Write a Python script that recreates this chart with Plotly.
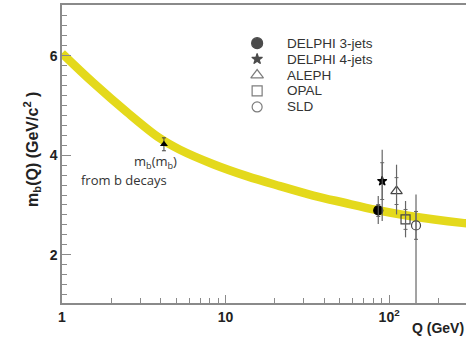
import plotly.graph_objects as go

# Running-mass band (centre line)
band_q = [1.0, 1.55, 2.49, 3.97, 5.26, 8.41, 13.5, 21.5, 34.4, 52.4, 83.9, 134, 279, 300]
band_m = [6.05, 5.46, 4.87, 4.34, 4.11, 3.82, 3.58, 3.38, 3.19, 3.05, 2.90, 2.78, 2.64, 2.63]

# mb(mb) from b decays
low_q = [4.2]
low_m = [4.22]
low_err = [0.13]

# LEP / SLD measurements
names = ["DELPHI 3-jets", "DELPHI 4-jets", "ALEPH", "OPAL", "SLD"]
q_vals = [85.8, 90.7, 111, 126, 146]
m_vals = [2.89, 3.48, 3.28, 2.71, 2.59]
err_up = [0.29, 0.63, 0.53, 0.37, 0.62]
err_dn = [0.27, 0.80, 0.47, 0.36, 1.70]
stat_err = [0.12, 0.37, 0.27, 0.20, 0.28]
symbols = ["circle", "star", "triangle-up-open", "square-open", "circle-open"]
colors = ["#000000", "#000000", "#444444", "#444444", "#444444"]
sizes = [9, 7, 10, 9, 9]
legend_sizes = [11, 8, 11, 10, 10]

x_major = [1, 10, 100]
x_major_text = ["<b>1</b>", "<b>10</b>", "<b>10<sup>2</sup></b>"]
x_minor = [2, 3, 4, 5, 6, 7, 8, 9, 20, 30, 40, 50, 60, 70, 80, 90, 200]
y_major = [2, 4, 6]
y_major_text = ["<b>2</b>", "<b>4</b>", "<b>6</b>"]

# manual legend layout (fractions of plot area)
leg_marker_x = 0.483
leg_text_x = 0.552
leg_top = 0.872
leg_step = 0.0535

fig = go.Figure()

fig.add_trace(go.Scatter(x=band_q, y=band_m, mode="lines",
                         line=dict(color="#e4d91c", width=8.5, shape="spline", smoothing=1.0),
                         showlegend=False, hoverinfo="skip"))

fig.add_trace(go.Scatter(x=low_q, y=low_m, mode="markers",
                         marker=dict(symbol="triangle-up", size=7, color="#000000"),
                         error_y=dict(type="data", array=low_err, color="#444444",
                                      thickness=1, width=2),
                         showlegend=False))

for i, n in enumerate(names):
    fig.add_trace(go.Scatter(x=[q_vals[i]], y=[m_vals[i]], mode="markers",
                             marker=dict(symbol=symbols[i], size=sizes[i], color=colors[i],
                                         line=dict(color=colors[i], width=1.2)),
                             error_y=dict(type="data", symmetric=False,
                                          array=[err_up[i]], arrayminus=[err_dn[i]],
                                          color="#666666", thickness=1.2, width=0),
                             name=n, showlegend=False))
    fig.add_trace(go.Scatter(x=[q_vals[i]], y=[m_vals[i]], mode="markers",
                             marker=dict(size=1, color="rgba(0,0,0,0)"),
                             error_y=dict(type="data", array=[stat_err[i]],
                                          color="#666666", thickness=1, width=2),
                             showlegend=False, hoverinfo="skip"))

# legend symbols on an overlay axis spanning the plot area
fig.add_trace(go.Scatter(x=[leg_marker_x] * len(names),
                         y=[leg_top - k * leg_step for k in range(len(names))],
                         mode="markers", xaxis="x2", yaxis="y2",
                         marker=dict(symbol=symbols, size=legend_sizes, color=colors,
                                     line=dict(color=colors, width=1.2)),
                         showlegend=False, hoverinfo="skip"))
for k, n in enumerate(names):
    fig.add_annotation(text=n, xref="x2", yref="y2", x=leg_text_x,
                       y=leg_top - k * leg_step, xanchor="left", yanchor="middle",
                       showarrow=False,
                       font=dict(size=13.5, family="Liberation Sans, Arial", color="#333333"))

fig.update_layout(
    width=466, height=337,
    margin=dict(l=62, r=0, t=5, b=34),
    paper_bgcolor="white", plot_bgcolor="white",
    font=dict(family="Liberation Sans, Arial, sans-serif", color="#222222"),
    showlegend=False,
    xaxis2=dict(overlaying="x", range=[0, 1], visible=False, automargin=False),
    yaxis2=dict(overlaying="y", range=[0, 1], visible=False, automargin=False),
)

fig.layout.xaxis.update(type="log", range=[0, 2.47], automargin=False,
                        showline=True, linecolor="#8a8a8a", linewidth=1.5, mirror=True,
                        showgrid=False, zeroline=False,
                        tickmode="array", tickvals=x_major, ticktext=x_major_text,
                        ticks="inside", ticklen=8, tickcolor="#8a8a8a", tickwidth=1,
                        tickfont=dict(size=14, family="Liberation Sans, Arial", color="#222222"),
                        minor=dict(tickmode="array", tickvals=x_minor, ticks="inside",
                                   ticklen=5, tickcolor="#8a8a8a", showgrid=False))

fig.layout.yaxis.update(range=[1.03, 7.02], automargin=False,
                        showline=True, linecolor="#8a8a8a", linewidth=1.5,
                        showgrid=False, zeroline=False,
                        tickmode="array", tickvals=y_major, ticktext=y_major_text,
                        ticks="inside", ticklen=9, tickcolor="#8a8a8a", tickwidth=1,
                        tickfont=dict(size=14, family="Liberation Sans, Arial", color="#222222"),
                        minor=dict(dtick=0.2, tick0=0, ticks="inside", ticklen=5,
                                   tickcolor="#8a8a8a", showgrid=False))

fig.add_annotation(text="<b>m<sub>b</sub>(Q) (GeV/c<sup>2</sup> )</b>", textangle=-90,
                   xref="paper", yref="paper", x=-0.074, y=0.514,
                   xanchor="center", yanchor="middle", showarrow=False,
                   font=dict(size=16, color="#222222"))
fig.add_annotation(text="<b>Q (GeV)</b>", xref="paper", yref="paper",
                   x=1.0, y=-0.052, xanchor="right", yanchor="top", showarrow=False,
                   font=dict(size=14, color="#222222"))
fig.add_annotation(text="m<sub>b</sub>(m<sub>b</sub>)", x=0.57, y=3.86,
                   xref="x", yref="y", showarrow=False,
                   font=dict(size=13, family="Open Sans, sans-serif", color="#333333"))
fig.add_annotation(text="from b decays", x=0.105, y=3.5, xanchor="left",
                   xref="x", yref="y", showarrow=False,
                   font=dict(size=13, family="Open Sans, sans-serif", color="#333333"))

fig.write_html("out.html", config={"displayModeBar": False},
               post_script="document.body.style.margin='0';document.body.style.overflow='hidden';")
